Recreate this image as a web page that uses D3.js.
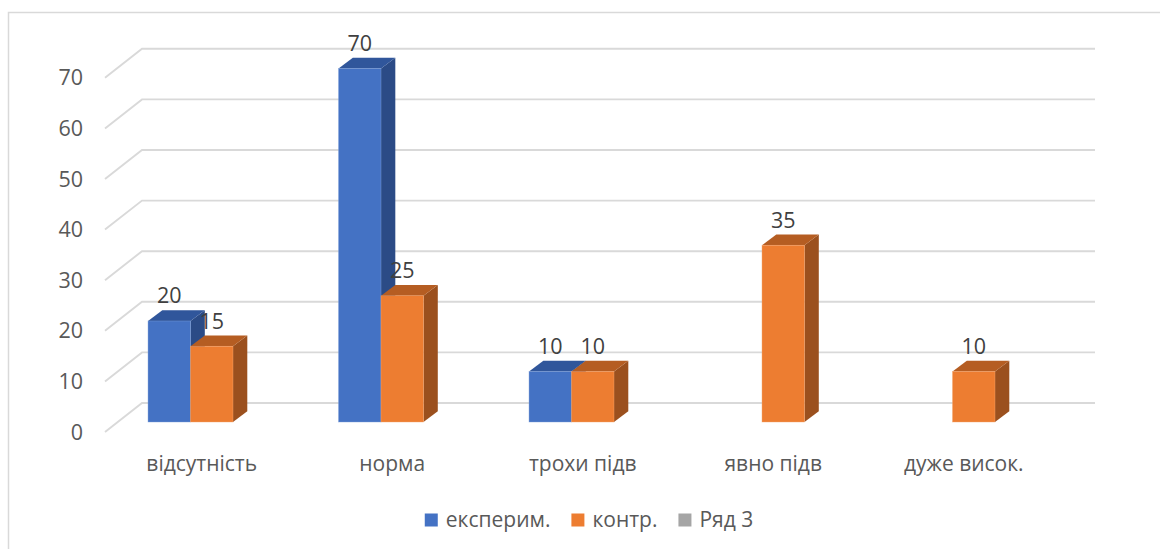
<!DOCTYPE html>
<html>
<head>
<meta charset="utf-8">
<script src="https://cdn.jsdelivr.net/npm/d3@7"></script>
<style>
  html, body { margin: 0; padding: 0; background: #ffffff; }
  svg { display: block; font-family: "Open Sans", "Noto Sans", sans-serif; }
</style>
</head>
<body>
<svg id="chart" width="1160" height="549"></svg>
<script>
// Categories and series
const categories = ["відсутність", "норма", "трохи підв", "явно підв", "дуже висок."];
const seriesNames = ["експерим.", "контр.", "Ряд 3"];
const experimValues = [20, 70, 10, 0, 0];
const controlValues = [15, 25, 10, 35, 10];
const row3Values = [null, null, null, null, null];
const yTicks = [0, 10, 20, 30, 40, 50, 60, 70];

const seriesValues = [experimValues, controlValues, row3Values];
const seriesColors = [
  { front: "#4472c4", top: "#30569b", side: "#2b4b86", edge: "#7f9fd8" },
  { front: "#ed7d31", top: "#b55d22", side: "#9b501e", edge: "#f4a56e" },
  { front: "#a5a5a5", top: "#7c7c7c", side: "#6b6b6b", edge: "#c8c8c8" }
];

const svg = d3.select("#chart");

// Chart area frame
svg.append("path")
  .attr("d", "M8.5,560 L8.5,12.5 L1170,12.5")
  .attr("fill", "none")
  .attr("stroke", "#d9d9d9")
  .attr("stroke-width", 1.5);

// Walls: front edge of the floor and the back wall, both sharing the value domain
const wallFront = d3.scaleLinear().domain([0, 70]).range([432, 77.8]);
const wallBack = d3.scaleLinear().domain([0, 70]).range([403, 48.8]);
const wallLeftFront = 105, wallLeftBack = 142, wallRight = 1095;

// Bar plane
const y = d3.scaleLinear().domain([0, 70]).range([422, 68.5]);
const x0 = d3.scaleBand().domain(categories).range([116.5, 1069])
  .paddingInner(0.331).paddingOuter(0.1655);
const x1 = d3.scaleBand().domain(seriesNames).range([0, x0.bandwidth()]);
const depth = { dx: 14.3, dy: -10.7 };

// Gridlines (side wall diagonal + back wall horizontal)
const grid = svg.append("g");
grid.selectAll("path").data(yTicks).join("path")
  .attr("d", v => `M${wallLeftFront},${wallFront(v)} L${wallLeftBack},${wallBack(v)} L${wallRight},${wallBack(v)}`)
  .attr("fill", "none")
  .attr("stroke", "#d9d9d9")
  .attr("stroke-width", 1.9);

// Value axis labels
svg.append("g").selectAll("text").data(yTicks).join("text")
  .attr("x", 83)
  .attr("y", v => wallFront(v) - 1)
  .attr("text-anchor", "end")
  .attr("dominant-baseline", "central")
  .attr("fill", "#595959")
  .attr("font-size", 21.5)
  .text(d => d);

// Bars as 3D boxes: side, top, then front
const bars = [];
categories.forEach((c, i) => {
  seriesNames.forEach((s, j) => {
    const v = seriesValues[j][i];
    if (v === null || v === undefined) return;
    bars.push({ c, s, j, v });
  });
});

const barG = svg.append("g");
bars.forEach(b => {
  if (b.v <= 0) return;
  const xl = x0(b.c) + x1(b.s);
  const xr = xl + x1.bandwidth();
  const yt = y(b.v), yb = y(0);
  const col = seriesColors[b.j];
  const g = barG.append("g");
  // side face
  g.append("path")
    .attr("d", `M${xr},${yb} L${xr + depth.dx},${yb + depth.dy} L${xr + depth.dx},${yt + depth.dy} L${xr},${yt} Z`)
    .attr("fill", col.side);
  // top face
  g.append("path")
    .attr("d", `M${xl},${yt} L${xl + depth.dx},${yt + depth.dy} L${xr + depth.dx},${yt + depth.dy} L${xr},${yt} Z`)
    .attr("fill", col.top);
  // front face
  g.append("rect")
    .attr("x", xl).attr("y", yt)
    .attr("width", xr - xl).attr("height", yb - yt)
    .attr("fill", col.front)
    .attr("stroke", col.edge)
    .attr("stroke-width", 0.6)
    .attr("stroke-opacity", 0.7);
});

// Data labels
svg.append("g").selectAll("text").data(bars.filter(b => b.v > 0)).join("text")
  .attr("x", b => x0(b.c) + x1(b.s) + x1.bandwidth() / 2)
  .attr("y", b => y(b.v) + depth.dy - 7)
  .attr("text-anchor", "middle")
  .attr("fill", "#404040")
  .attr("font-size", 21.5)
  .text(b => b.v);

// Category labels
svg.append("g").selectAll("text").data(categories).join("text")
  .attr("x", c => x0(c) + x0.bandwidth() / 2 - 10)
  .attr("y", 470.5)
  .attr("text-anchor", "middle")
  .attr("fill", "#595959")
  .attr("font-size", 21)
  .text(c => c);

// Legend
const legend = svg.append("g");
const items = legend.selectAll("g").data(seriesNames).join("g");
items.append("rect")
  .attr("width", 13).attr("height", 13)
  .attr("y", -13.5)
  .attr("fill", (d, i) => seriesColors[i].front);
items.append("text")
  .attr("x", 21)
  .attr("y", 0)
  .attr("fill", "#595959")
  .attr("font-size", 21)
  .text(d => d);
let cursor = 0;
const positions = [];
items.each(function () {
  positions.push(cursor);
  const w = 21 + d3.select(this).select("text").node().getComputedTextLength();
  cursor += w + 21;
});
const totalW = cursor - 21;
const startX = 589 - totalW / 2;
items.attr("transform", (d, i) => `translate(${startX + positions[i]},527)`);
</script>
</body>
</html>
